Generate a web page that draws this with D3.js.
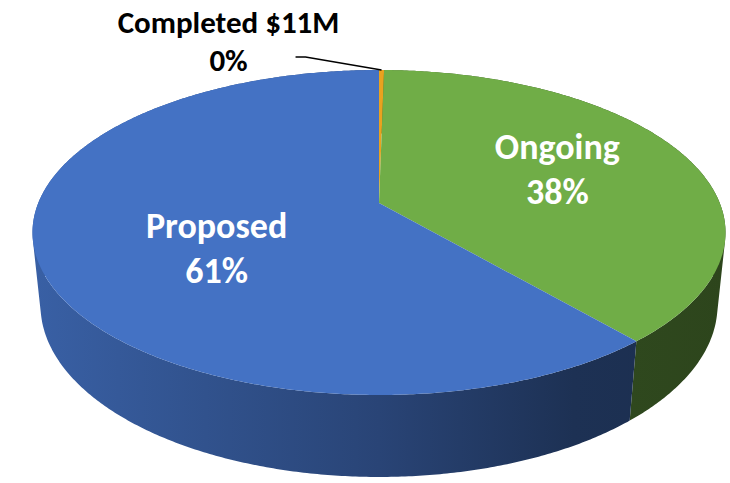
<!DOCTYPE html>
<html>
<head>
<meta charset="utf-8">
<script src="https://cdn.jsdelivr.net/npm/d3@7"></script>
<style>
  html, body { margin: 0; padding: 0; background: #fff; }
  svg text { font-family: Carlito, Calibri, "Liberation Sans Narrow", "Open Sans", sans-serif; font-weight: bold; }
</style>
</head>
<body>
<div id="chart"></div>
<script>
// data ($M)
const categories = ["Completed", "Ongoing", "Proposed"];
const values = [11, 1510, 2408];
const colors = ["#E9A21F", "#70AD47", "#4472C4"];

const width = 730, height = 483;

// camera for the 3d pie (fitted to the picture)
const alpha = 27.46 * Math.PI / 180;
const cosA = Math.cos(alpha), sinA = Math.sin(alpha);
const dist = 4.888, focal = 1665.6, thick = 0.2427;
const cx = 379, cy = 203;

// theta clockwise from the back (12 o'clock), r radius, y height (0 = top face)
function project(theta, r, y) {
  const x = r * Math.sin(theta), z = -r * Math.cos(theta);
  const yc = y * cosA - z * sinA;
  const depth = dist - (y * sinA + z * cosA);
  return [cx + focal * x / depth, cy - focal * yc / depth];
}

const svg = d3.select("#chart").append("svg")
  .attr("width", width)
  .attr("height", height);

const defs = svg.append("defs");
const shade = [[0, 0.84], [0.25, 0.72], [0.5, 0.6], [0.78, 0.43], [1, 0.4]];
colors.forEach((c, i) => {
  const g = defs.append("linearGradient")
    .attr("id", "side" + i)
    .attr("gradientUnits", "userSpaceOnUse")
    .attr("x1", 32).attr("x2", 726).attr("y1", 0).attr("y2", 0);
  const base = d3.rgb(c);
  shade.forEach(([o, k]) => {
    g.append("stop")
      .attr("offset", o)
      .attr("stop-color", d3.rgb(base.r * k, base.g * k, base.b * k).formatHex());
  });
});

const pie = d3.pie().sort(null).value(d => d);
const arcs = pie(values);
const step = Math.PI / 360;

function arcPoints(a, y) {
  const n = Math.max(2, Math.ceil((a.endAngle - a.startAngle) / step));
  const pts = [];
  for (let i = 0; i <= n; i++) {
    const t = a.startAngle + (a.endAngle - a.startAngle) * i / n;
    pts.push(project(t, 1, y));
  }
  return pts;
}

// side walls: union of small quads, each wound the same way
arcs.forEach((a, i) => {
  const top = arcPoints(a, 0), bot = arcPoints(a, -thick);
  let d = "";
  for (let k = 0; k < top.length - 1; k++) {
    let q = [top[k], top[k + 1], bot[k + 1], bot[k]];
    let area = 0;
    for (let j = 0; j < 4; j++) {
      const p = q[j], n = q[(j + 1) % 4];
      area += p[0] * n[1] - n[0] * p[1];
    }
    if (area < 0) q = q.reverse();
    d += "M" + q.map(p => p[0].toFixed(2) + "," + p[1].toFixed(2)).join("L") + "Z";
  }
  svg.append("path")
    .attr("d", d)
    .attr("fill", "url(#side" + i + ")");
});

// top faces
const center = project(0, 0, 0);
arcs.forEach((a, i) => {
  const pts = [center].concat(arcPoints(a, 0));
  svg.append("path")
    .attr("d", d3.line()(pts) + "Z")
    .attr("fill", colors[i]);
});

// labels
const total = d3.sum(values);
const pct = d3.format(".0%");
const inside = { Ongoing: { shift: -1.8, r: 0.585 }, Proposed: { shift: -11, r: 0.53 } };

arcs.forEach((a, i) => {
  const name = categories[i];
  const share = pct(values[i] / total);
  const mid = (a.startAngle + a.endAngle) / 2;
  if (inside[name]) {
    const p = project(mid + inside[name].shift * Math.PI / 180, inside[name].r, 0);
    const t = svg.append("text")
      .attr("text-anchor", "middle")
      .attr("fill", "#fff")
      .style("font-size", "36px");
    t.append("tspan").attr("x", p[0]).attr("y", p[1] - 11).text(name);
    t.append("tspan").attr("x", p[0]).attr("y", p[1] + 34).text(share);
  } else {
    // outside label with leader line
    const rim = project(mid, 1, 0);
    const start = [rim[0] - 86, rim[1] - 13];
    svg.append("path")
      .attr("d", d3.line()([start, [start[0] + 10, start[1]], rim]))
      .attr("fill", "none")
      .attr("stroke", "#000")
      .attr("stroke-width", 1.4);
    const lx = start[0] - 67;
    const t = svg.append("text")
      .attr("text-anchor", "middle")
      .attr("fill", "#000")
      .style("font-size", "31px");
    t.append("tspan").attr("x", lx).attr("y", start[1] - 24).text(name + " $" + values[i] + "M");
    t.append("tspan").attr("x", lx).attr("y", start[1] + 14).text(share);
  }
});
</script>
</body>
</html>
